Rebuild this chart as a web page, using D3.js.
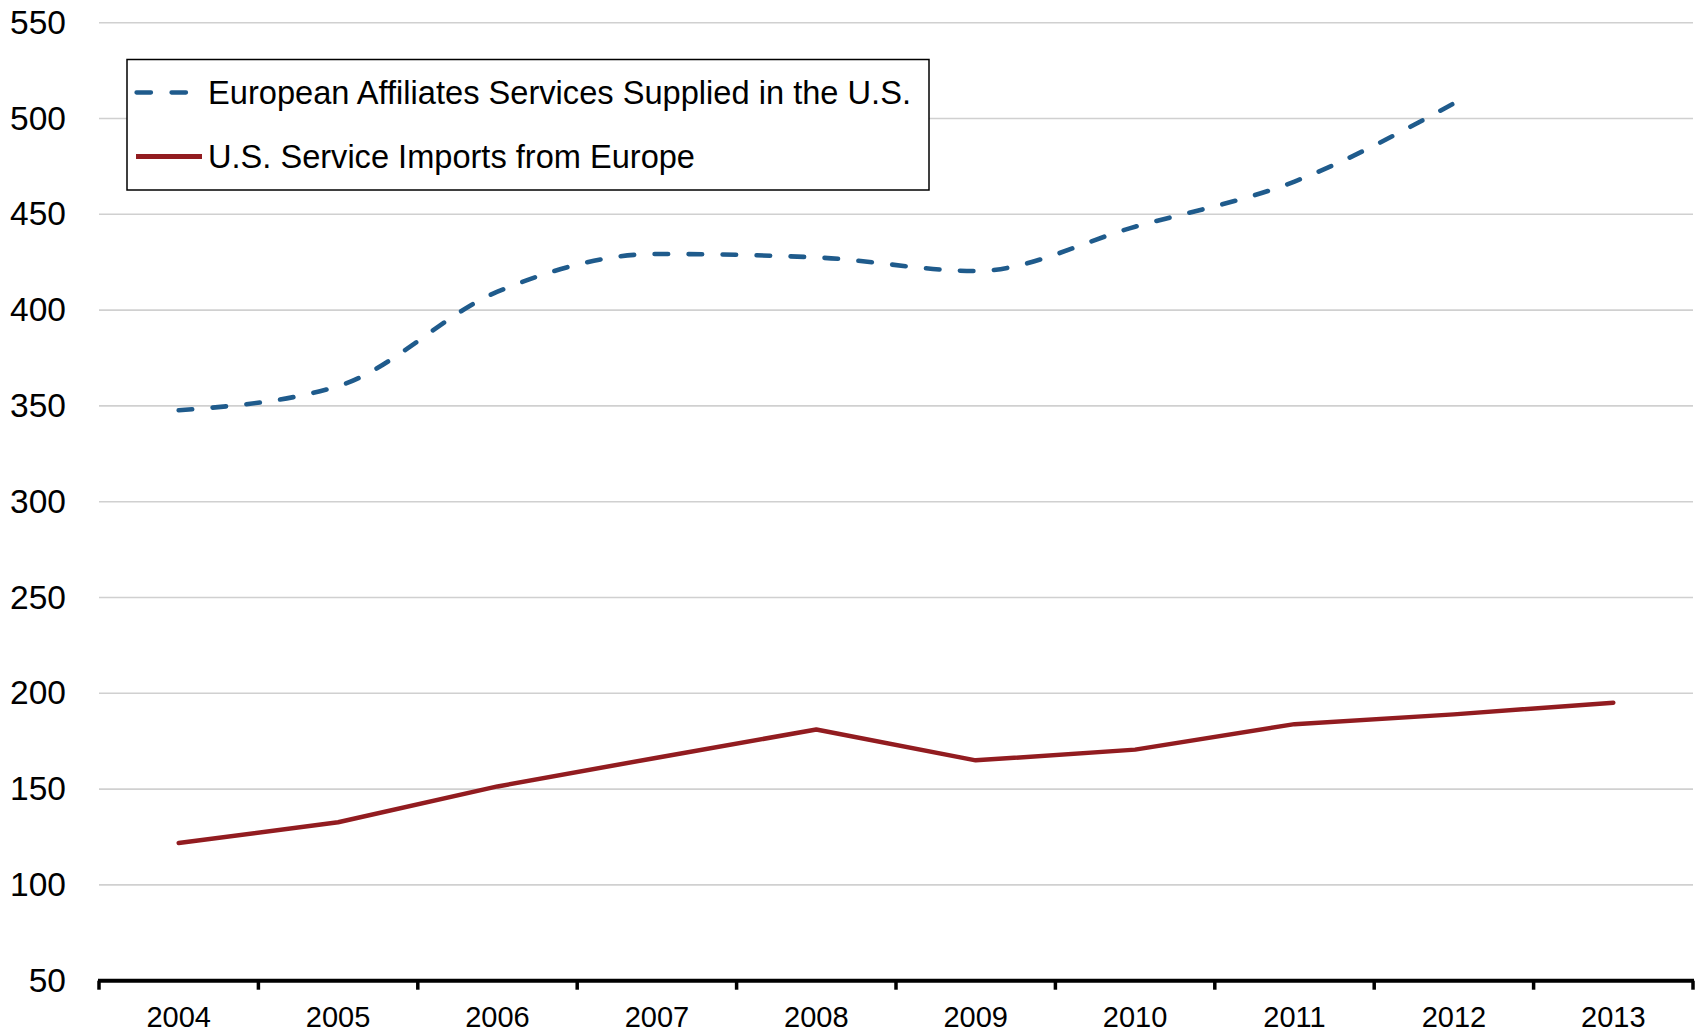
<!DOCTYPE html>
<html>
<head>
<meta charset="utf-8">
<script src="https://cdn.jsdelivr.net/npm/d3@7"></script>
<style>
  html, body { margin: 0; padding: 0; background: #fff; }
  svg { display: block; }
  text { font-family: "Liberation Sans", Arial, sans-serif; fill: #000; }
</style>
</head>
<body>
<svg id="chart" width="1703" height="1033"></svg>
<script>
// ---- data ----
const years = ["2004","2005","2006","2007","2008","2009","2010","2011","2012","2013"];
const affiliatesServices = [347.7, 360.3, 409.6, 429.3, 427.5, 420.4, 443.5, 467.1, 507.9, null];
const serviceImports = [121.9, 132.7, 151.4, 166.4, 181.1, 165.0, 170.6, 183.9, 189.0, 195.1];
const yTicks = [50, 100, 150, 200, 250, 300, 350, 400, 450, 500, 550];
const seriesNames = ["European Affiliates Services Supplied in the U.S.", "U.S. Service Imports from Europe"];

(function () {
// ---- layout ----
const svg = d3.select("#chart");
const plotLeft = 99, plotRight = 1693, plotTop = 22.7, plotBottom = 980.7;

const x = d3.scaleBand().domain(years).range([plotLeft, plotRight]).padding(0);
const y = d3.scaleLinear().domain([50, 550]).range([plotBottom, plotTop]);
const cx = d => x(d) + x.bandwidth() / 2;

// gridlines
svg.append("g").selectAll("line")
  .data(yTicks.filter(t => t !== 50))
  .join("line")
  .attr("x1", plotLeft).attr("x2", plotRight)
  .attr("y1", d => y(d)).attr("y2", d => y(d))
  .attr("stroke", "#d0d0d0").attr("stroke-width", 1.6);

// y labels
svg.append("g").selectAll("text")
  .data(yTicks)
  .join("text")
  .attr("x", 66).attr("y", d => y(d))
  .attr("dy", "0.33em")
  .attr("text-anchor", "end")
  .style("font-size", "33.5px")
  .text(d => d);

// x axis line and ticks
const axisG = svg.append("g");
axisG.append("line")
  .attr("x1", plotLeft - 1).attr("x2", plotRight + 1)
  .attr("y1", plotBottom).attr("y2", plotBottom)
  .attr("stroke", "#000").attr("stroke-width", 4);
const tickPos = years.map(d => x(d)).concat([x(years[years.length - 1]) + x.bandwidth()]);
axisG.selectAll("line.tick")
  .data(tickPos)
  .join("line")
  .attr("class", "tick")
  .attr("x1", d => d).attr("x2", d => d)
  .attr("y1", plotBottom).attr("y2", plotBottom + 9)
  .attr("stroke", "#000").attr("stroke-width", 3.5);

// x labels
axisG.selectAll("text")
  .data(years)
  .join("text")
  .attr("x", d => cx(d)).attr("y", 1027)
  .attr("text-anchor", "middle")
  .style("font-size", "29px")
  .text(d => d);

// lines
const blue = "#1f5b8c", red = "#921c20";
const blueLine = d3.line()
  .x(d => cx(d[0])).y(d => y(d[1]))
  .curve(d3.curveMonotoneX);
const redLine = d3.line()
  .x(d => cx(d[0])).y(d => y(d[1]));

svg.append("path")
  .datum(years.map((yr, i) => [yr, serviceImports[i]]))
  .attr("d", redLine)
  .attr("fill", "none").attr("stroke", red)
  .attr("stroke-width", 4.5).attr("stroke-linejoin", "round").attr("stroke-linecap", "round");

svg.append("path")
  .datum(years.map((yr, i) => [yr, affiliatesServices[i]]).filter(d => d[1] != null))
  .attr("d", blueLine)
  .attr("fill", "none").attr("stroke", blue)
  .attr("stroke-width", 4.6).attr("stroke-linecap", "round")
  .attr("stroke-dasharray", "13.5,20.5");

// legend
const lg = svg.append("g");
lg.append("rect")
  .attr("x", 127).attr("y", 59.5).attr("width", 802).attr("height", 130.5)
  .attr("fill", "#fff").attr("stroke", "#000").attr("stroke-width", 1.5);
lg.append("line")
  .attr("x1", 136.5).attr("x2", 186).attr("y1", 92.5).attr("y2", 92.5)
  .attr("stroke", blue).attr("stroke-width", 4.3).attr("stroke-linecap", "round")
  .attr("stroke-dasharray", "14.5,20.5");
lg.append("line")
  .attr("x1", 136).attr("x2", 202).attr("y1", 156.5).attr("y2", 156.5)
  .attr("stroke", red).attr("stroke-width", 4.8);
lg.append("text")
  .attr("x", 208).attr("y", 103.5)
  .attr("textLength", 703).attr("lengthAdjust", "spacingAndGlyphs")
  .style("font-size", "33.5px")
  .text(seriesNames[0]);
lg.append("text")
  .attr("x", 208).attr("y", 167.8)
  .attr("textLength", 487).attr("lengthAdjust", "spacingAndGlyphs")
  .style("font-size", "33.5px")
  .text(seriesNames[1]);
})();
</script>
</body>
</html>
